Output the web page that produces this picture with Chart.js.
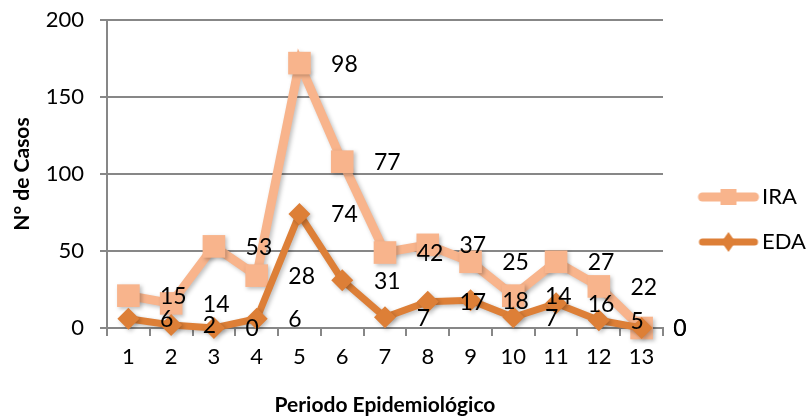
<!DOCTYPE html>
<html>
<head>
<meta charset="utf-8">
<script src="https://cdn.jsdelivr.net/npm/chart.js@4.4.1/dist/chart.umd.min.js"></script>
<style>
  html, body { margin: 0; padding: 0; background: #fff; }
  #wrap { width: 809px; height: 419px; position: relative; }
</style>
</head>
<body>
<div id="wrap"><canvas id="grafico"></canvas></div>
<script>
// datos (casos por periodo)
const periodos = ["1", "2", "3", "4", "5", "6", "7", "8", "9", "10", "11", "12", "13"];
const casosIRA = [15, 14, 53, 28, 98, 77, 42, 37, 25, 14, 27, 22, 0];
const casosEDA = [6, 2, 0, 6, 74, 31, 7, 17, 18, 7, 16, 5, 0];
const ejeYMin = 0;
const ejeYMax = 200;
const ejeYPaso = 50;

const colorIRA = "#F8B48C";
const colorEDA = "#DD7F37";
const colorGris = "#878787";
const fuente = "Lato, 'Open Sans', sans-serif";

Chart.defaults.font.family = fuente;
Chart.defaults.color = "#000";

// icono de leyenda: linea gruesa con el marcador, corrido a la derecha
function iconoLeyenda(color, forma, grosor) {
  const c = document.createElement("canvas");
  c.width = 84;
  c.height = 26;
  const g = c.getContext("2d");
  g.strokeStyle = color;
  g.fillStyle = color;
  g.lineWidth = grosor;
  g.lineCap = "round";
  g.beginPath();
  g.moveTo(26, 13);
  g.lineTo(78, 13);
  g.stroke();
  g.beginPath();
  if (forma === "cuadro") {
    g.rect(52 - 8, 13 - 8, 16, 16);
  } else {
    g.moveTo(52, 13 - 10);
    g.lineTo(52 + 7, 13);
    g.lineTo(52, 13 + 10);
    g.lineTo(52 - 7, 13);
    g.closePath();
  }
  g.fill();
  return c;
}

const sombra = {
  id: "sombra",
  beforeDatasetDraw(chart) {
    const ctx = chart.ctx;
    ctx.save();
    ctx.shadowColor = "rgba(0,0,0,0.25)";
    ctx.shadowBlur = 4;
    ctx.shadowOffsetX = 2;
    ctx.shadowOffsetY = 2;
  },
  afterDatasetDraw(chart) {
    chart.ctx.restore();
  },
};

// etiquetas de valor, corridas a la derecha como en el original
const etiquetas = {
  id: "etiquetas",
  afterDatasetsDraw(chart) {
    const ctx = chart.ctx;
    const x = chart.scales.x;
    const paso = x.getPixelForValue(1) - x.getPixelForValue(0);
    ctx.save();
    ctx.font = "23px " + fuente;
    ctx.fillStyle = "#000";
    ctx.textAlign = "left";
    ctx.textBaseline = "middle";
    chart.data.datasets.forEach((ds, di) => {
      const meta = chart.getDatasetMeta(di);
      meta.data.forEach((pt, i) => {
        ctx.fillText(String(ds.data[i]), pt.x + paso * 0.74, pt.y + 1);
      });
    });
    ctx.restore();
  },
};

new Chart(document.getElementById("grafico"), {
  type: "line",
  data: {
    labels: periodos,
    datasets: [
      {
        label: "EDA",
        data: casosEDA,
        borderColor: colorEDA,
        backgroundColor: colorEDA,
        borderWidth: 7,
        pointStyle: "rectRot",
        pointRadius: 11,
        pointBorderWidth: 0,
        pointBackgroundColor: colorEDA,
        tension: 0,
        clip: false,
      },
      {
        label: "IRA",
        data: casosIRA,
        borderColor: colorIRA,
        backgroundColor: colorIRA,
        borderWidth: 9,
        pointStyle: "rect",
        pointRadius: 16,
        pointBorderWidth: 0,
        pointBackgroundColor: colorIRA,
        tension: 0,
        clip: false,
      },
    ],
  },
  options: {
    responsive: true,
    maintainAspectRatio: false,
    animation: false,
    layout: { padding: { top: 20, right: 0, bottom: 0, left: 0 } },
    plugins: {
      tooltip: { enabled: false },
      legend: {
        position: "right",
        reverse: true,
        maxWidth: 146,
        labels: {
          usePointStyle: true,
          pointStyleWidth: 65,
          padding: 23,
          font: { size: 22 },
          color: "#000",
          generateLabels(chart) {
            return chart.data.datasets.map((ds, i) => ({
              text: ds.label,
              datasetIndex: i,
              pointStyle: i === 0
                ? iconoLeyenda(colorEDA, "rombo", 7)
                : iconoLeyenda(colorIRA, "cuadro", 9),
              fillStyle: ds.borderColor,
              strokeStyle: ds.borderColor,
              lineWidth: 0,
              hidden: false,
            }));
          },
        },
      },
    },
    scales: {
      x: {
        offset: true,
        afterFit(s) { s.height = 91; },
        grid: {
          offset: true,
          drawOnChartArea: false,
          tickLength: 8,
          color: colorGris,
          lineWidth: 2,
        },
        border: { color: colorGris, width: 2 },
        ticks: { font: { size: 22 }, color: "#000", padding: 8, maxRotation: 0 },
        title: {
          display: true,
          text: "Periodo Epidemiológico",
          font: { size: 21, weight: "bold" },
          color: "#000",
          padding: { top: 0, bottom: 1 },
        },
      },
      y: {
        stacked: true,
        min: ejeYMin,
        max: ejeYMax,
        afterFit(s) {
          s.width = 107;
          s.paddingTop = 0;
          s.paddingBottom = 0;
        },
        ticks: { stepSize: ejeYPaso, font: { size: 22 }, color: "#000", padding: 16 },
        grid: { color: colorGris, lineWidth: 2, tickLength: 7 },
        border: { color: colorGris, width: 2 },
        title: {
          display: true,
          text: "N° de Casos",
          font: { size: 21, weight: "bold" },
          color: "#000",
          padding: { top: 10, bottom: 0 },
        },
      },
    },
  },
  plugins: [sombra, etiquetas],
});
</script>
</body>
</html>
